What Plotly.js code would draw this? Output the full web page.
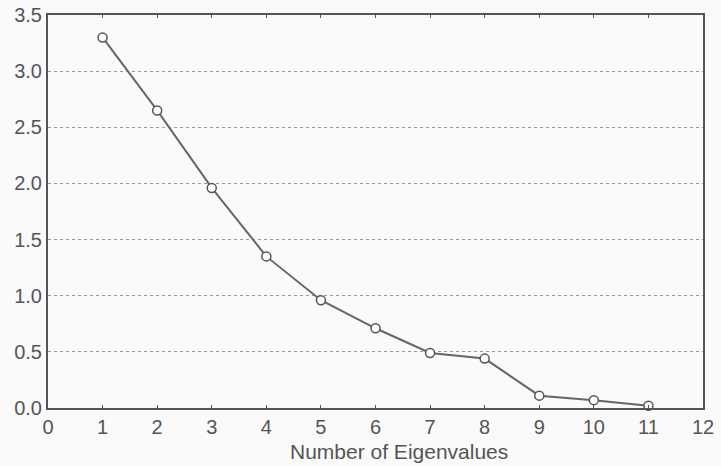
<!DOCTYPE html>
<html><head><meta charset="utf-8">
<script src="https://cdn.plot.ly/plotly-3.0.1.min.js"></script>
<style>html,body{margin:0;padding:0;background:#fafafa;}</style>
</head><body>
<div id="chart" style="width:721px;height:466px;"></div>
<script>
const eigenNumber = [1, 2, 3, 4, 5, 6, 7, 8, 9, 10, 11];
const eigenValue = [3.30, 2.65, 1.96, 1.35, 0.96, 0.71, 0.49, 0.44, 0.11, 0.07, 0.02];
const xTicks = [0,1,2,3,4,5,6,7,8,9,10,11,12];
const yTicks = [0,0.5,1.0,1.5,2.0,2.5,3.0,3.5];
const yTickText = ["0.0","0.5","1.0","1.5","2.0","2.5","3.0","3.5"];
const xTitle = 'Number of Eigenvalues';

const trace = {
  x: eigenNumber, y: eigenValue, type: 'scatter', mode: 'lines+markers',
  line: {color: '#666666', width: 2},
  marker: {size: 9, color: '#ffffff', line: {color: '#555555', width: 1.5}},
  cliponaxis: false
};
const layout = {
  width: 721, height: 466,
  margin: {l: 48, r: 18, t: 15, b: 58},
  paper_bgcolor: '#fafafa', plot_bgcolor: '#fafafa',
  font: {family: 'Liberation Sans, Arial, sans-serif', color: '#555555', size: 20},
  showlegend: false,
  xaxis: {
    range: [0, 12], tickvals: xTicks, ticktext: xTicks.map(String),
    showgrid: false, zeroline: false,
    showline: true, linecolor: '#555555', linewidth: 2, mirror: 'ticks',
    ticks: 'inside', ticklen: 3, tickcolor: '#555555',
    tickfont: {size: 20, color: '#555555'}
  },
  yaxis: {
    range: [0, 3.5], tickvals: yTicks, ticktext: yTickText,
    showgrid: true, gridcolor: '#999999', griddash: 'dot', gridwidth: 1,
    zeroline: false,
    showline: true, linecolor: '#555555', linewidth: 2, mirror: true,
    ticks: '', tickfont: {size: 20, color: '#555555'}
  },
  annotations: [{
    text: xTitle, xref: 'paper', yref: 'paper', x: 0.536, y: 0,
    xanchor: 'center', yanchor: 'bottom', yshift: -57, showarrow: false,
    font: {size: 21, color: '#555555'}
  }]
};
Plotly.newPlot('chart', [trace], layout, {displayModeBar: false, staticPlot: true});
</script>
</body></html>
